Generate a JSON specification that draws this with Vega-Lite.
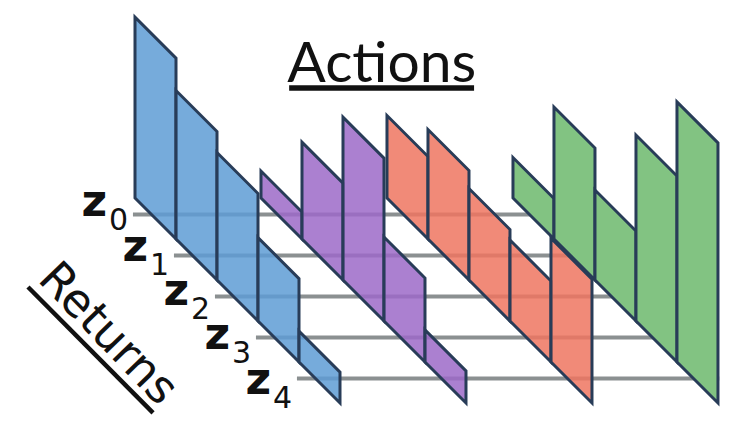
{
  "$schema": "https://vega.github.io/schema/vega-lite/v6.json",
  "width": 744,
  "height": 432,
  "autosize": {"type": "fit", "contains": "padding"},
  "padding": 0,
  "background": "white",
  "config": {"view": {"stroke": null}},
  "datasets": {
    "dist": [
      {"action": 0, "atom": 0, "p": 0.603},
      {"action": 0, "atom": 1, "p": 0.495},
      {"action": 0, "atom": 2, "p": 0.425},
      {"action": 0, "atom": 3, "p": 0.278},
      {"action": 0, "atom": 4, "p": 0.103},
      {"action": 1, "atom": 0, "p": 0.09},
      {"action": 1, "atom": 1, "p": 0.323},
      {"action": 1, "atom": 2, "p": 0.543},
      {"action": 1, "atom": 3, "p": 0.28},
      {"action": 1, "atom": 4, "p": 0.107},
      {"action": 2, "atom": 0, "p": 0.275},
      {"action": 2, "atom": 1, "p": 0.365},
      {"action": 2, "atom": 2, "p": 0.305},
      {"action": 2, "atom": 3, "p": 0.27},
      {"action": 2, "atom": 4, "p": 0.413},
      {"action": 3, "atom": 0, "p": 0.135},
      {"action": 3, "atom": 1, "p": 0.44},
      {"action": 3, "atom": 2, "p": 0.3},
      {"action": 3, "atom": 3, "p": 0.62},
      {"action": 3, "atom": 4, "p": 0.867}
    ],
    "atoms": [
      {"atom": 0, "sub": "0"},
      {"atom": 1, "sub": "1"},
      {"atom": 2, "sub": "2"},
      {"atom": 3, "sub": "3"},
      {"atom": 4, "sub": "4"}
    ]
  },
  "layer": [
    {
      "data": {"name": "atoms"},
      "transform": [
        {"calculate": "datum.atom - 0.05", "as": "x0"},
        {"calculate": "datum.atom + 10.25", "as": "x1"},
        {"calculate": "datum.atom + 0.4", "as": "yl"}
      ],
      "mark": {"type": "rule", "stroke": "#8b9091", "strokeWidth": 4},
      "encoding": {
        "x": {"field": "x0", "type": "quantitative", "axis": null, "scale": {"domain": [-3.2927, 14.8537], "nice": false, "zero": false}},
        "x2": {"field": "x1"},
        "y": {"field": "yl", "type": "quantitative", "axis": null, "scale": {"domain": [-4.8293, 5.7073], "reverse": true, "nice": false, "zero": false}}
      }
    },
    {
      "data": {"name": "dist"},
      "transform": [
        {"calculate": "[0, 1]", "as": "edge"},
        {"flatten": ["edge"]},
        {"calculate": "datum.action * 3.073 + datum.atom + datum.edge", "as": "gx"},
        {"calculate": "datum.atom + datum.edge", "as": "floor"},
        {"calculate": "datum.floor - datum.p * 7.317", "as": "ceil"},
        {"calculate": "datum.action * 10 + datum.atom", "as": "bar"}
      ],
      "mark": {"type": "area", "stroke": "#283c58", "strokeWidth": 3, "strokeJoin": "miter", "interpolate": "linear"},
      "encoding": {
        "x": {"field": "gx", "type": "quantitative", "axis": null, "scale": {"domain": [-3.2927, 14.8537], "nice": false, "zero": false}},
        "y": {"field": "floor", "type": "quantitative", "stack": null, "axis": null, "scale": {"domain": [-4.8293, 5.7073], "reverse": true, "nice": false, "zero": false}},
        "y2": {"field": "ceil"},
        "detail": {"field": "bar", "type": "nominal"},
        "color": {"field": "action", "type": "nominal", "legend": null, "scale": {"domain": [0, 1, 2, 3], "range": ["#5e9cd5", "#9c6ac8", "#ef7560", "#82c382"]}},
        "fillOpacity": {"condition": {"test": "datum.action === 3", "value": 1}, "value": 0.85}
      }
    },
    {
      "data": {"name": "atoms"},
      "transform": [
        {"calculate": "datum.atom - 0.68", "as": "lx"},
        {"calculate": "datum.atom * 1.08 + 0.45", "as": "ly"}
      ],
      "mark": {"type": "text", "text": "z", "align": "right", "baseline": "alphabetic", "font": "DejaVu Sans", "fontWeight": "bold", "fontSize": 44, "color": "#111111"},
      "encoding": {
        "x": {"field": "lx", "type": "quantitative", "axis": null, "scale": {"domain": [-3.2927, 14.8537], "nice": false, "zero": false}},
        "y": {"field": "ly", "type": "quantitative", "axis": null, "scale": {"domain": [-4.8293, 5.7073], "reverse": true, "nice": false, "zero": false}}
      }
    },
    {
      "data": {"name": "atoms"},
      "transform": [
        {"calculate": "datum.atom - 0.68", "as": "lx"},
        {"calculate": "datum.atom * 1.08 + 0.45", "as": "ly"}
      ],
      "mark": {"type": "text", "align": "left", "baseline": "alphabetic", "dx": 2, "dy": 14, "font": "DejaVu Sans", "fontSize": 30, "color": "#111111"},
      "encoding": {
        "x": {"field": "lx", "type": "quantitative", "axis": null, "scale": {"domain": [-3.2927, 14.8537], "nice": false, "zero": false}},
        "y": {"field": "ly", "type": "quantitative", "axis": null, "scale": {"domain": [-4.8293, 5.7073], "reverse": true, "nice": false, "zero": false}},
        "text": {"field": "sub", "type": "nominal"}
      }
    },
    {
      "data": {"values": [{}]},
      "mark": {"type": "text", "text": "Returns", "angle": 46, "align": "center", "baseline": "middle", "font": "DejaVu Sans", "fontSize": 46, "color": "#111111"},
      "encoding": {
        "x": {"datum": -0.66, "type": "quantitative", "axis": null, "scale": {"domain": [-3.2927, 14.8537], "nice": false, "zero": false}},
        "y": {"datum": 3.32, "type": "quantitative", "axis": null, "scale": {"domain": [-4.8293, 5.7073], "reverse": true, "nice": false, "zero": false}}
      }
    },
    {
      "data": {"values": [{}]},
      "mark": {"type": "rule", "stroke": "#111111", "strokeWidth": 4.5},
      "encoding": {
        "x": {"datum": -2.61, "type": "quantitative", "axis": null, "scale": {"domain": [-3.2927, 14.8537], "nice": false, "zero": false}},
        "x2": {"datum": 0.44},
        "y": {"datum": 2.17, "type": "quantitative", "axis": null, "scale": {"domain": [-4.8293, 5.7073], "reverse": true, "nice": false, "zero": false}},
        "y2": {"datum": 5.24}
      }
    },
    {
      "data": {"values": [{}]},
      "mark": {"type": "text", "text": "Actions", "align": "center", "baseline": "alphabetic", "font": "Lato", "fontSize": 57, "color": "#111111"},
      "encoding": {
        "x": {"datum": 6.02, "type": "quantitative", "axis": null, "scale": {"domain": [-3.2927, 14.8537], "nice": false, "zero": false}},
        "y": {"datum": -2.83, "type": "quantitative", "axis": null, "scale": {"domain": [-4.8293, 5.7073], "reverse": true, "nice": false, "zero": false}}
      }
    },
    {
      "data": {"values": [{}]},
      "mark": {"type": "rule", "stroke": "#111111", "strokeWidth": 5.5},
      "encoding": {
        "x": {"datum": 3.76, "type": "quantitative", "axis": null, "scale": {"domain": [-3.2927, 14.8537], "nice": false, "zero": false}},
        "x2": {"datum": 8.27},
        "y": {"datum": -2.68, "type": "quantitative", "axis": null, "scale": {"domain": [-4.8293, 5.7073], "reverse": true, "nice": false, "zero": false}}
      }
    }
  ]
}
